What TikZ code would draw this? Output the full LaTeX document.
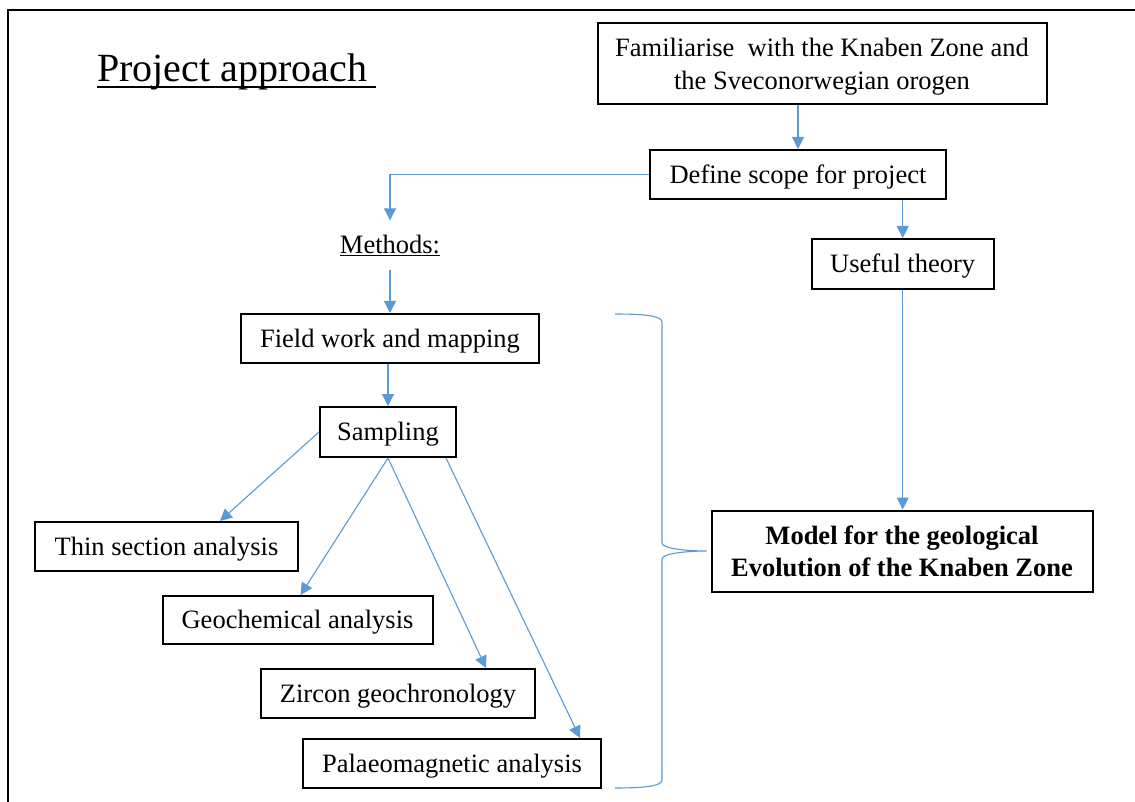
\documentclass[tikz,border=0pt]{standalone}
\usepackage{fontspec}
\setmainfont{Liberation Serif}
\usetikzlibrary{arrows.meta,calc}
\definecolor{linkblue}{RGB}{91,155,213}
\begin{document}
\begin{tikzpicture}[x=1pt,y=-1pt,
  box/.style={draw=black,line width=2pt,inner sep=0pt,align=center,
    font=\fontsize{26.5}{33}\selectfont},
  onebox/.style={box,text height=20pt,text depth=2.4pt},
  link/.style={draw=linkblue,line width=1.1pt,-{Triangle[width=12pt,length=12pt]},color=linkblue},
  plain/.style={inner sep=0pt,font=\fontsize{26.5}{30}\selectfont}]
\useasboundingbox (0,0) rectangle (1135,802);
\fill[white] (0,0) rectangle (1135,802);
% frame
\draw[line width=2.5pt] (8,802) -- (8,10) -- (1135,10);
% title
\node[inner sep=0pt,anchor=base west,font=\fontsize{40}{44}\selectfont] (title) at (97,82) {Project approach};
\draw[line width=2pt] ([yshift=-5.5]title.base west) -- ([yshift=-5.5,xshift=9]title.base east);
% nodes
\node[box,minimum width=449pt,minimum height=81pt,text height=60pt,text depth=8pt] (fam) at (822,64)
  {Familiarise\ \ with the Knaben Zone and\\the Sveconorwegian orogen};
\node[onebox,minimum width=296pt,minimum height=49pt] (def) at (798,174.5) {Define scope for project};
\node[onebox,minimum width=182pt,minimum height=50pt] (use) at (902.7,264) {Useful theory};
\node[plain,minimum height=49pt] (meth) at (390,245) {\underline{Methods:}};
\node[onebox,minimum width=298pt,minimum height=49pt] (field) at (390,338.5) {Field work and mapping};
\node[onebox,minimum width=136pt,minimum height=50pt] (samp) at (388,432) {Sampling};
\node[onebox,minimum width=263pt,minimum height=49pt] (thin) at (166.5,546.5) {Thin section analysis};
\node[onebox,minimum width=270pt,minimum height=48pt] (geo) at (297.5,620) {Geochemical analysis};
\node[onebox,minimum width=274pt,minimum height=49pt] (zir) at (398,693.5) {Zircon geochronology};
\node[onebox,minimum width=298pt,minimum height=49pt] (pal) at (452,763.5) {Palaeomagnetic analysis};
\node[box,minimum width=381pt,minimum height=81pt,font=\fontsize{26.5}{32}\selectfont\bfseries] (model) at (902,551)
  {Model for the geological\\Evolution of the Knaben Zone};
% connectors
\draw[link] (def.north |- fam.south) -- (def.north);
\draw[link] (use.north |- def.south) -- (use.north);
\draw[link] (def.west) -| (meth.north);
\draw[link] (meth.south) -- (field.north);
\draw[link] (field.south -| samp.north) -- (samp.north);
\draw[link] (use.south) -- (use.south |- model.north);
\draw[link] (samp.west) -- ([xshift=53.5]thin.north);
\draw[link] (samp.south) -- ([xshift=3]geo.north);
\draw[link] (samp.south) -- ([xshift=88]zir.north);
\draw[link] ([xshift=58]samp.south) -- ([xshift=128]pal.north);
% brace
\coordinate (tip) at ([xshift=-4]model.west);
\draw[linkblue,line width=1.1pt]
  (615,314) .. controls (645,314) and (662,316) .. (662,322) -- (662,543)
  .. controls (662,549) and (690,551) .. (tip)
  .. controls (690,551) and (662,553) .. (662,559) -- (662,780)
  .. controls (662,786) and (645,788) .. (615,788);
\end{tikzpicture}
\end{document}
